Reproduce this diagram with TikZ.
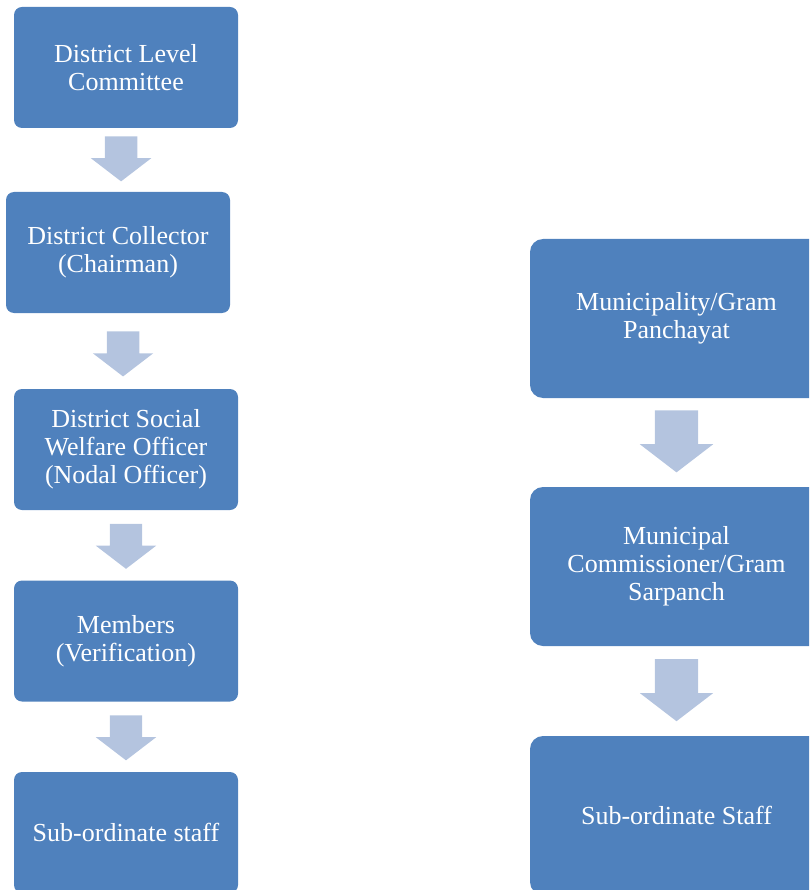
\documentclass[tikz,border=0pt]{standalone}
\usepackage{fontspec}
\setmainfont{Liberation Serif}
\usetikzlibrary{shapes.arrows}
\definecolor{boxblue}{HTML}{4F81BD}
\definecolor{arrowblue}{HTML}{B4C4DF}
\tikzset{
  stage/.style={fill=boxblue, text=white, rounded corners=8pt, inner sep=0pt,
    minimum width=224pt, minimum height=121pt, align=center,
    font=\fontsize{26}{28}\selectfont},
  bigstage/.style={stage, rounded corners=13pt, minimum width=293pt, minimum height=159pt},
  downarrow/.style={single arrow, fill=arrowblue, rotate=-90, inner xsep=0pt,
    inner ysep=16pt, minimum height=45pt, single arrow head extend=14pt,
    single arrow tip angle=105, anchor=tip, pos=0.84},
  bigdownarrow/.style={downarrow, inner ysep=21.5pt, minimum height=62pt,
    single arrow head extend=15pt}
}
\begin{document}
\begin{tikzpicture}[x=1pt,y=-1pt]
    \useasboundingbox (0,0) rectangle (809,890);
    \clip (0,0) rectangle (809,890);
    % district side
    \node[stage] (dlc) at (126,67.5) {District Level\\Committee};
    \node[stage] (collector) at (118,252.5) {District Collector\\(Chairman)};
    \node[stage] (dswo) at (126,449.5) {District Social\\Welfare Officer\\(Nodal Officer)};
    \node[stage] (members) at (126,641) {Members\\(Verification)};
    \node[stage] (dstaff) at (126,832.5) {Sub-ordinate staff};
    \path (dlc) -- node[downarrow]{} (collector);
    \path (collector) -- node[downarrow]{} (dswo);
    \path (dswo) -- node[downarrow]{} (members);
    \path (members) -- node[downarrow]{} (dstaff);
    % municipal side
    \node[bigstage] (mgp) at (676.5,318.5) {Municipality/Gram\\Panchayat};
    \node[bigstage] (commissioner) at (676.5,566.5) {Municipal\\Commissioner/Gram\\Sarpanch};
    \node[bigstage] (mstaff) at (676.5,815.5) {Sub-ordinate Staff};
    \path (mgp) -- node[bigdownarrow]{} (commissioner);
    \path (commissioner) -- node[bigdownarrow]{} (mstaff);
\end{tikzpicture}
\end{document}
